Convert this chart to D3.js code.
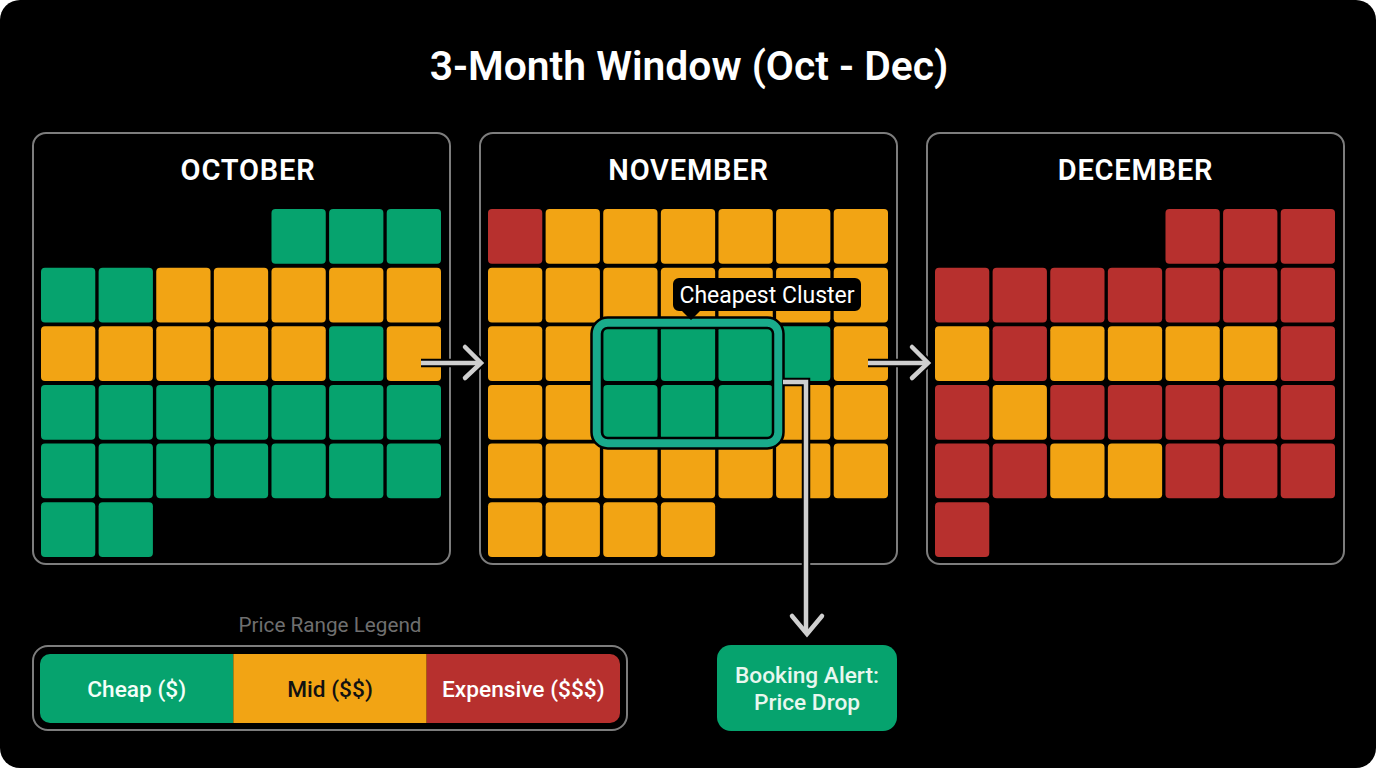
<!DOCTYPE html>
<html>
<head>
<meta charset="utf-8">
<script src="https://cdn.jsdelivr.net/npm/d3@7"></script>
<style>
    html, body { margin: 0; padding: 0; background: #fff; overflow: hidden; }
    svg { display: block; }
    text { font-family: Roboto, Inter, sans-serif; }
</style>
</head>
<body>
<script>
var months = ["OCTOBER", "NOVEMBER", "DECEMBER"];
var monthLabelShift = [6.5, 0, 0];
var categories = ["Cheap ($)", "Mid ($$)", "Expensive ($$$)"];
var categoryColors = ["#06a36e", "#f2a414", "#b7302e"];
var categoryText = ["#f4fff9", "#111", "#fff"];

// price level per day cell: 0 cheap, 1 mid, 2 expensive, null empty
var october = [
    [null, null, null, null, 0, 0, 0],
    [0, 0, 1, 1, 1, 1, 1],
    [1, 1, 1, 1, 1, 0, 1],
    [0, 0, 0, 0, 0, 0, 0],
    [0, 0, 0, 0, 0, 0, 0],
    [0, 0]
];
var november = [
    [2, 1, 1, 1, 1, 1, 1],
    [1, 1, 1, 1, 1, 1, 1],
    [1, 1, 0, 0, 0, 0, 1],
    [1, 1, 0, 0, 0, 1, 1],
    [1, 1, 1, 1, 1, 1, 1],
    [1, 1, 1, 1]
];
var december = [
    [null, null, null, null, 2, 2, 2],
    [2, 2, 2, 2, 2, 2, 2],
    [1, 2, 1, 1, 1, 1, 2],
    [2, 1, 2, 2, 2, 2, 2],
    [2, 2, 1, 1, 2, 2, 2],
    [2]
];
var grids = [october, november, december];
var clusterCols = [2, 4];
var clusterRows = [2, 3];

var width = 1376;
var height = 768;
var svg = d3.select("body")
    .append("svg")
    .attr("width", width)
    .attr("height", height);

svg.append("rect")
    .attr("width", width)
    .attr("height", height)
    .attr("rx", 20)
    .attr("fill", "#000");

svg.append("text")
    .attr("x", 689)
    .attr("y", 80)
    .attr("text-anchor", "middle")
    .attr("font-size", 40.8)
    .attr("font-weight", 600)
    .attr("fill", "#fff")
    .text("3-Month Window (Oct - Dec)");

var panelX = d3.scaleBand().domain(d3.range(3)).range([33, 1374]).paddingInner(0);
var panelW = 417;
var panelTop = 133;
var panelH = 431;

// cell positions, relative to the panel
var colX = d3.scaleBand().domain(d3.range(7)).range([8, 408]).paddingInner(0.058);
var rowY = d3.scaleBand().domain(d3.range(6)).range([76, 424]).paddingInner(0.066);

var panels = svg.selectAll("g.panel")
    .data(months)
    .join("g")
    .attr("class", "panel")
    .attr("transform", (d, i) => "translate(" + panelX(i) + "," + panelTop + ")");

panels.append("rect")
    .attr("width", panelW)
    .attr("height", panelH)
    .attr("rx", 13)
    .attr("fill", "none")
    .attr("stroke", "#7d7d7d")
    .attr("stroke-width", 2);

panels.append("text")
    .attr("x", (d, i) => panelW / 2 + monthLabelShift[i])
    .attr("y", 47)
    .attr("text-anchor", "middle")
    .attr("font-size", 29)
    .attr("font-weight", 600)
    .attr("letter-spacing", 0.8)
    .attr("fill", "#fff")
    .text(d => d);

panels.each(function (d, i) {
    var cells = [];
    grids[i].forEach((row, r) => {
        row.forEach((v, c) => {
            if (v !== null) cells.push({ r: r, c: c, v: v });
        });
    });
    d3.select(this).selectAll("rect.cell")
        .data(cells)
        .join("rect")
        .attr("class", "cell")
        .attr("x", e => colX(e.c))
        .attr("y", e => rowY(e.r))
        .attr("width", colX.bandwidth())
        .attr("height", rowY.bandwidth())
        .attr("rx", 4)
        .attr("fill", e => categoryColors[e.v]);
});

// cluster highlight on november
var nov = svg.append("g").attr("transform", "translate(" + panelX(1) + "," + panelTop + ")");
var cx0 = colX(clusterCols[0]) - 6.5;
var cx1 = colX(clusterCols[1]) + colX.bandwidth() + 5.5;
var cy0 = rowY(clusterRows[0]) - 3.5;
var cy1 = rowY(clusterRows[1]) + rowY.bandwidth() + 3.5;

function clusterRect(color, sw) {
    nov.append("rect")
        .attr("x", cx0)
        .attr("y", cy0)
        .attr("width", cx1 - cx0)
        .attr("height", cy1 - cy0)
        .attr("rx", 11)
        .attr("fill", "none")
        .attr("stroke", color)
        .attr("stroke-width", sw);
}
clusterRect("#000", 13);
clusterRect("#19ab8b", 8);

// tooltip
var tip = svg.append("g");
tip.append("path")
    .attr("d", "M679,278H855a6,6 0 0 1 6,6V305a6,6 0 0 1 -6,6H700L691,320L682,311H679a6,6 0 0 1 -6,-6V284a6,6 0 0 1 6,-6Z")
    .attr("fill", "#000");
tip.append("text")
    .attr("x", 767)
    .attr("y", 303)
    .attr("text-anchor", "middle")
    .attr("font-size", 23)
    .attr("fill", "#fff")
    .text("Cheapest Cluster");

// arrows, drawn twice for the black outline
function arrow(d, head) {
    [["#000", 8.5], ["#cfcfcf", 4.5]].forEach(s => {
        svg.append("path")
            .attr("d", d)
            .attr("fill", "none")
            .attr("stroke", s[0])
            .attr("stroke-width", s[1])
            .attr("stroke-linejoin", "miter");
        svg.append("path")
            .attr("d", head)
            .attr("fill", "none")
            .attr("stroke", s[0])
            .attr("stroke-width", s[1])
            .attr("stroke-linecap", "round")
            .attr("stroke-linejoin", "miter");
    });
}
arrow("M421,363H478", "M465,347L481,363L465,378");
arrow("M868,363H925", "M912,347L928,363L912,378");
arrow("M783,382H806V632", "M792,616L807,634L822,616");

// legend
svg.append("text")
    .attr("x", 330)
    .attr("y", 632)
    .attr("text-anchor", "middle")
    .attr("font-size", 20.7)
    .attr("fill", "#6f6f6f")
    .text("Price Range Legend");

svg.append("rect")
    .attr("x", 33)
    .attr("y", 646)
    .attr("width", 594)
    .attr("height", 84)
    .attr("rx", 15)
    .attr("fill", "none")
    .attr("stroke", "#7d7d7d")
    .attr("stroke-width", 2);

var legendX = d3.scaleBand().domain(categories).range([40, 620]);
var legendClip = svg.append("clipPath").attr("id", "legend-clip");
legendClip.append("rect")
    .attr("x", 40)
    .attr("y", 654)
    .attr("width", 580)
    .attr("height", 69)
    .attr("rx", 10);

var legend = svg.append("g");
legend.append("g")
    .attr("clip-path", "url(#legend-clip)")
    .selectAll("rect")
    .data(categories)
    .join("rect")
    .attr("x", d => legendX(d))
    .attr("y", 654)
    .attr("width", legendX.bandwidth())
    .attr("height", 69)
    .attr("fill", (d, i) => categoryColors[i]);

legend.selectAll("text")
    .data(categories)
    .join("text")
    .attr("x", d => legendX(d) + legendX.bandwidth() / 2)
    .attr("y", 697)
    .attr("text-anchor", "middle")
    .attr("font-size", 22.7)
    .attr("font-weight", 500)
    .attr("fill", (d, i) => categoryText[i])
    .text(d => d);

// booking alert box
svg.append("rect")
    .attr("x", 717)
    .attr("y", 645)
    .attr("width", 180)
    .attr("height", 86)
    .attr("rx", 14)
    .attr("fill", categoryColors[0]);

svg.selectAll("text.alert")
    .data(["Booking Alert:", "Price Drop"])
    .join("text")
    .attr("class", "alert")
    .attr("x", 807)
    .attr("y", (d, i) => 683 + i * 27)
    .attr("text-anchor", "middle")
    .attr("font-size", 22.7)
    .attr("font-weight", 500)
    .attr("fill", "#e8f7ef")
    .text(d => d);
</script>
</body>
</html>
